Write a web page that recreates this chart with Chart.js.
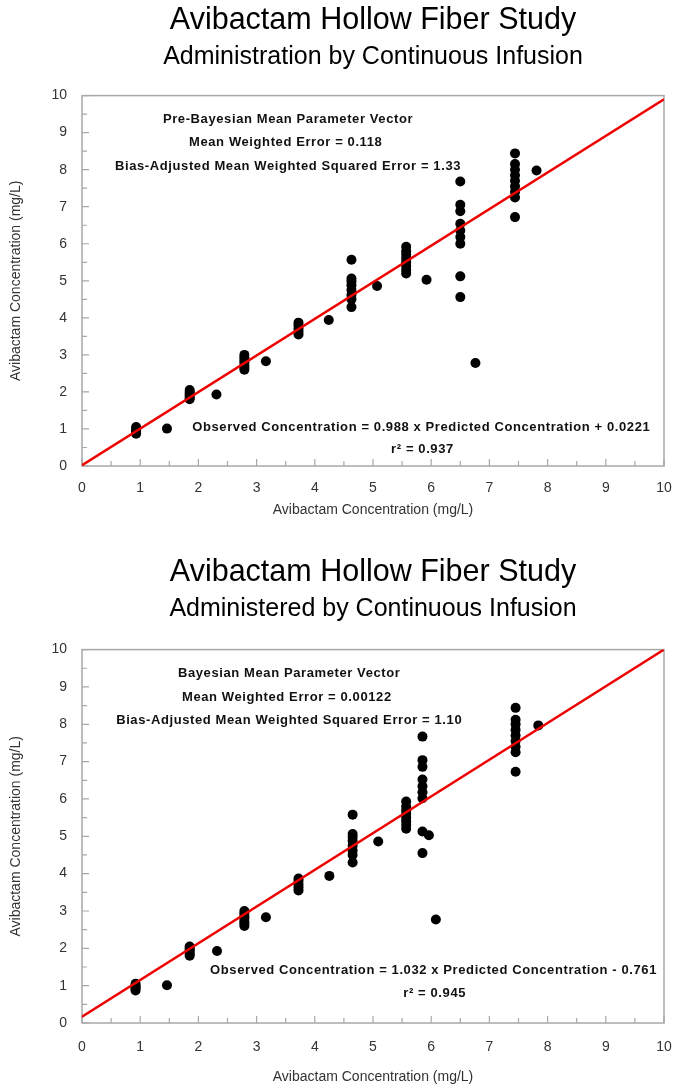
<!DOCTYPE html>
<html><head><meta charset="utf-8">
<script src="https://cdn.jsdelivr.net/npm/chart.js@4.4.0/dist/chart.umd.min.js"></script>
<style>
html,body{margin:0;padding:0;background:#fff;overflow:hidden;}
#w1{position:absolute;left:0;top:0;width:675px;height:545px;}
#w2{position:absolute;left:0;top:540px;width:675px;height:546px;}
</style></head><body>
<div id="w1"><canvas id="c1"></canvas></div>
<div id="w2"><canvas id="c2"></canvas></div>
<script>
// ---------- DATA ----------
const topTitle = "Avibactam Hollow Fiber Study";
const topSubtitle = "Administration by Continuous Infusion";
const bottomTitle = "Avibactam Hollow Fiber Study";
const bottomSubtitle = "Administered by Continuous Infusion";
const axisLabel = "Avibactam Concentration (mg/L)";

const tickLabels = [0,1,2,3,4,5,6,7,8,9,10];
const tickMarks = [0,0.5,1,1.5,2,2.5,3,3.5,4,4.5,5,5.5,6,6.5,7,7.5,8,8.5,9,9.5,10];

// Top panel (pre-Bayesian): predicted (x) and observed (y)
const topPredicted = [
  0.93,0.93,0.93,0.93,0.93,
  1.46,
  1.85,1.85,1.85,1.85,1.85,1.85,
  2.31,
  2.79,2.79,2.79,2.79,2.79,2.79,2.79,
  3.16,
  3.72,3.72,3.72,3.72,3.72,
  4.24,
  4.63,4.63,4.63,4.63,4.63,4.63,4.63,4.63,
  5.07,
  5.57,5.57,5.57,5.57,5.57,5.57,5.57,5.57,
  5.92,
  6.50,6.50,6.50,6.50,6.50,6.50,6.50,6.50,6.50,
  6.76,
  7.44,7.44,7.44,7.44,7.44,7.44,7.44,7.44,7.44,
  7.81
];
const topObserved = [
  0.87,0.92,0.96,1.00,1.05,
  1.01,
  1.80,1.85,1.90,1.95,2.00,2.05,
  1.93,
  2.60,2.66,2.72,2.80,2.86,2.93,3.00,
  2.83,
  3.55,3.63,3.71,3.80,3.87,
  3.94,
  4.29,4.50,4.62,4.75,4.88,4.98,5.06,5.57,
  4.86,
  5.20,5.30,5.40,5.50,5.60,5.70,5.80,5.92,
  5.03,
  4.56,5.12,6.00,6.18,6.36,6.54,6.88,7.05,7.68,
  2.78,
  6.72,7.25,7.40,7.55,7.70,7.85,8.00,8.15,8.44,
  7.98
];
const topFitX = [0, 10];
const topFitY = [0.02, 9.90];

// Bottom panel (Bayesian): predicted (x) and observed (y)
const bottomPredicted = [
  0.92,0.92,0.92,0.92,0.92,
  1.46,
  1.85,1.85,1.85,1.85,1.85,1.85,
  2.32,
  2.79,2.79,2.79,2.79,2.79,2.79,2.79,
  3.16,
  3.72,3.72,3.72,3.72,3.72,
  4.25,
  4.65,4.65,4.65,4.65,4.65,4.65,4.65,4.65,
  5.09,
  5.57,5.57,5.57,5.57,5.57,5.57,5.57,5.57,
  5.96,
  5.85,5.85,5.85,5.85,5.85,5.85,5.85,5.85,5.85,
  6.08,
  7.45,7.45,7.45,7.45,7.45,7.45,7.45,7.45,7.45,
  7.84
];
const bottomObserved = [
  0.87,0.92,0.96,1.00,1.05,
  1.01,
  1.80,1.85,1.90,1.95,2.00,2.05,
  1.93,
  2.60,2.66,2.72,2.80,2.86,2.93,3.00,
  2.83,
  3.55,3.63,3.71,3.80,3.87,
  3.94,
  4.30,4.50,4.62,4.75,4.88,4.98,5.06,5.58,
  4.86,
  5.20,5.30,5.40,5.50,5.60,5.70,5.80,5.93,
  5.03,
  4.55,5.13,6.02,6.18,6.34,6.52,6.86,7.04,7.67,
  2.77,
  6.73,7.25,7.40,7.55,7.70,7.85,8.00,8.12,8.44,
  7.97
];
const bottomFitX = [0, 10];
const bottomFitY = [0.17, 10.0];

const topNotes = [
  "Pre-Bayesian Mean Parameter Vector",
  "Mean Weighted Error = 0.118",
  "Bias-Adjusted Mean Weighted Squared Error = 1.33",
  "Observed Concentration = 0.988 x Predicted Concentration + 0.0221",
  "r\u00B2 = 0.937"
];
const bottomNotes = [
  "Bayesian Mean Parameter Vector",
  "Mean Weighted Error = 0.00122",
  "Bias-Adjusted Mean Weighted Squared Error = 1.10",
  "Observed Concentration = 1.032 x Predicted Concentration - 0.761",
  "r\u00B2 = 0.945"
];

// ---------- RENDERING ----------
const FONT = "'Liberation Sans', Arial, Helvetica, sans-serif";
const frameColor = '#a8a8a8';

const framePlugin = {
  id: 'frameTicks',
  beforeDatasetsDraw(chart) {
    const {ctx, chartArea: a, scales: {x, y}} = chart;
    ctx.save();
    ctx.strokeStyle = frameColor;
    ctx.lineWidth = 1.5;
    ctx.strokeRect(a.left, a.top, a.right - a.left, a.bottom - a.top);
    ctx.lineWidth = 1.2;
    ctx.beginPath();
    tickMarks.forEach(v => {
      const len = Number.isInteger(v) ? 7 : 5;
      const px = x.getPixelForValue(v);
      ctx.moveTo(px, a.bottom); ctx.lineTo(px, a.bottom - len);
      const py = y.getPixelForValue(v);
      ctx.moveTo(a.left, py); ctx.lineTo(a.left + len, py);
    });
    ctx.stroke();
    ctx.restore();
  }
};

const notesPlugin = {
  id: 'notes',
  afterDatasetsDraw(chart, args, opts) {
    const {ctx, scales: {x, y}} = chart;
    ctx.save();
    ctx.fillStyle = '#111';
    ctx.font = "bold 13px " + FONT;
    try { ctx.letterSpacing = '0.6px'; } catch (e) {}
    ctx.textAlign = 'center';
    ctx.textBaseline = 'middle';
    opts.items.forEach(it => {
      ctx.fillText(it.text, x.getPixelForValue(it.x), y.getPixelForValue(it.y));
    });
    ctx.restore();
  }
};

function buildChart(id, cfg) {
  const points = cfg.px.map((v, i) => ({x: v, y: cfg.py[i]}));
  const fit = cfg.fx.map((v, i) => ({x: v, y: cfg.fy[i]}));
  return new Chart(document.getElementById(id), {
    type: 'scatter',
    data: {
      datasets: [
        {type: 'line', data: fit, borderColor: '#ee0000', borderWidth: 2.5,
         pointRadius: 0, fill: false, order: 0, tension: 0},
        {data: points, backgroundColor: '#000', borderColor: '#000',
         pointRadius: 5, pointBorderWidth: 0, order: 1}
      ]
    },
    options: {
      responsive: true, maintainAspectRatio: false, animation: false,
      layout: {padding: {left: 0, right: 11, top: 0, bottom: 0}},
      plugins: {
        legend: {display: false}, tooltip: {enabled: false},
        title: {display: true, text: cfg.title, color: '#000', fullSize: false,
                font: {family: FONT, size: 30.5, weight: 'normal'},
                padding: {top: cfg.titleTop, bottom: 0}},
        subtitle: {display: true, text: cfg.subtitle, color: '#000', fullSize: false,
                   font: {family: FONT, size: 25, weight: 'normal'},
                   padding: {top: cfg.subTop, bottom: cfg.subBottom}},
        notes: {items: cfg.notes}
      },
      scales: {
        x: {type: 'linear', min: 0, max: 10,
            afterFit: s => { s.height = cfg.xHeight; s.paddingLeft = 0; s.paddingRight = 0; },
            afterBuildTicks: s => { s.ticks = tickLabels.map(v => ({value: v})); },
            grid: {display: false}, border: {display: false},
            ticks: {color: '#333', font: {family: FONT, size: 14}, padding: cfg.xTickPad},
            title: {display: true, text: axisLabel, color: '#333',
                    font: {family: FONT, size: 14}, padding: {top: 0, bottom: cfg.xTitleBottom}}},
        y: {type: 'linear', min: 0, max: 10,
            afterFit: s => { s.width = 82; s.paddingTop = 0; s.paddingBottom = 0; },
            afterBuildTicks: s => { s.ticks = tickLabels.map(v => ({value: v})); },
            grid: {display: false}, border: {display: false},
            ticks: {color: '#333', font: {family: FONT, size: 14}, padding: 7},
            title: {display: true, text: axisLabel, color: '#333',
                    font: {family: FONT, size: 14}, padding: {top: 8, bottom: 0}}}
      }
    },
    plugins: [framePlugin, notesPlugin]
  });
}

buildChart('c1', {
  px: topPredicted, py: topObserved, fx: topFitX, fy: topFitY,
  title: topTitle, subtitle: topSubtitle,
  titleTop: 2, subTop: 4, subBottom: 23,
  xHeight: 79, xTickPad: 6, xTitleBottom: 26,
  notes: [
    {text: topNotes[0], x: 3.54, y: 9.35},
    {text: topNotes[1], x: 3.50, y: 8.73},
    {text: topNotes[2], x: 3.54, y: 8.09},
    {text: topNotes[3], x: 5.83, y: 1.05},
    {text: topNotes[4], x: 5.85, y: 0.46}
  ]
});
buildChart('c2', {
  px: bottomPredicted, py: bottomObserved, fx: bottomFitX, fy: bottomFitY,
  title: bottomTitle, subtitle: bottomSubtitle,
  titleTop: 14, subTop: 4, subBottom: 25,
  xHeight: 63, xTickPad: 8, xTitleBottom: 0,
  notes: [
    {text: bottomNotes[0], x: 3.56, y: 9.36},
    {text: bottomNotes[1], x: 3.52, y: 8.72},
    {text: bottomNotes[2], x: 3.56, y: 8.10},
    {text: bottomNotes[3], x: 6.04, y: 1.42},
    {text: bottomNotes[4], x: 6.06, y: 0.80}
  ]
});
</script>
</body></html>
